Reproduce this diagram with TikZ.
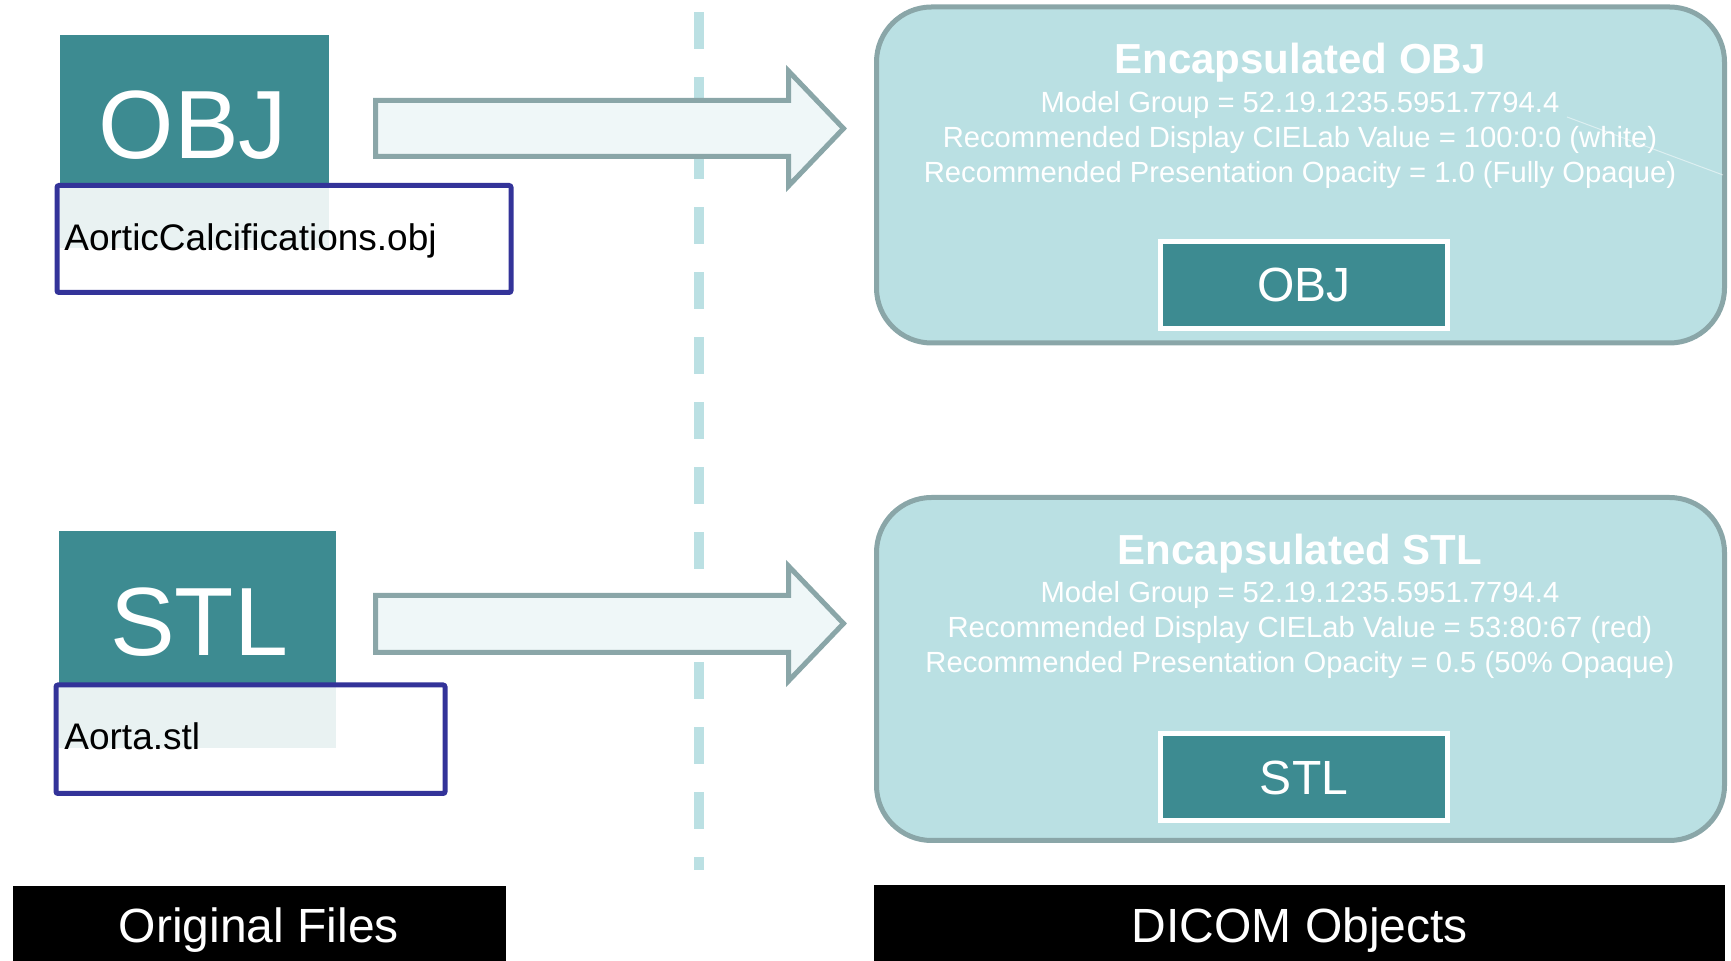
\documentclass[tikz,border=0pt]{standalone}
\usepackage{fontspec}
\setmainfont{Liberation Sans}

\definecolor{tealbox}{RGB}{61,139,145}
\definecolor{paneltint}{RGB}{186,224,227}
\definecolor{panelrim}{RGB}{138,166,168}
\definecolor{arrowfill}{RGB}{239,247,248}
\definecolor{filerim}{RGB}{51,51,153}
\definecolor{dashcol}{RGB}{187,224,227}

\tikzset{
  srcbox/.style={fill=tealbox, inner sep=0pt, outer sep=0pt},
  filebox/.style={draw=filerim, line width=2.5pt, fill=white, fill opacity=0.89, draw opacity=1, rounded corners=1pt, inner sep=0pt},
  bigtag/.style={text=white, font=\fontsize{48.5}{54}\selectfont, inner sep=0pt, anchor=base},
  fname/.style={text=black, font=\fontsize{18.5}{22}\selectfont, inner sep=0pt, anchor=base west},
  blockarrow/.style={draw=panelrim, fill=arrowfill, line width=2.5pt, line join=miter},
  panel/.style={draw=panelrim, fill=paneltint, line width=2.5pt, rounded corners=27.5pt, inner sep=0pt},
  ptitle/.style={text=white, font=\bfseries\fontsize{21}{25}\selectfont, inner sep=0pt, anchor=base},
  pline/.style={text=white, font=\fontsize{14.6}{17}\selectfont, inner sep=0pt, anchor=base},
  innertag/.style={draw=white, fill=tealbox, line width=2.5pt, inner sep=0pt},
  innerlabel/.style={text=white, font=\fontsize{24}{28}\selectfont, inner sep=0pt, anchor=base},
  footbar/.style={fill=black, inner sep=0pt, outer sep=0pt},
  footlabel/.style={text=white, font=\fontsize{24}{28}\selectfont, inner sep=0pt, anchor=base},
}

\begin{document}
\begin{tikzpicture}[x=0.5pt, y=-0.5pt]
\useasboundingbox (0,0) rectangle (1731,961);

% divider between the two columns
\draw[dashcol, line width=4.85pt, dash pattern=on 18.5pt off 14pt] (699,12) -- (699,870);

% ---------- original files ----------
\node[srcbox, minimum width=134.7pt, minimum height=106.5pt] (objsrc) at (194.3,141.5) {};
\node[bigtag] (objtag) at (193,159) {OBJ};
\node[filebox, minimum width=227pt, minimum height=53.5pt] (objfile) at (284,239) {};
\node[fname] (objname) at (64,250.7) {AorticCalcifications.obj};

\node[srcbox, minimum width=138.5pt, minimum height=108.5pt] (stlsrc) at (197.5,639.5) {};
\node[bigtag] (stltag) at (199,656) {STL};
\node[filebox, minimum width=194.5pt, minimum height=54.25pt] (stlfile) at (250.5,739.25) {};
\node[fname] (stlname) at (64,750) {Aorta.stl};

% ---------- conversion arrows ----------
\draw[blockarrow] (375.5,100.5) -- (788.5,100.5) -- (788.5,71) -- (843.5,128.5)
  -- (788.5,186) -- (788.5,156.5) -- (375.5,156.5) -- cycle;
\draw[blockarrow] (375.5,595.5) -- (788.5,595.5) -- (788.5,566) -- (843.5,623.5)
  -- (788.5,681) -- (788.5,652.5) -- (375.5,652.5) -- cycle;

% ---------- DICOM objects ----------
\node[panel, minimum width=424pt, minimum height=168pt] (objpanel) at (1300.5,175) {};
\node[ptitle] (objtitle) at (1300,74) {Encapsulated OBJ};
\node[pline] (objl1) at (1300,113) {Model Group = 52.19.1235.5951.7794.4};
\node[pline] (objl2) at (1300,148) {Recommended Display CIELab Value = 100:0:0 (white)};
\node[pline] (objl3) at (1300,183) {Recommended Presentation Opacity = 1.0 (Fully Opaque)};
\node[innertag, minimum width=143.75pt, minimum height=43.5pt] (objenc) at (1304,285) {};
\node[innerlabel] (objenclabel) at (1304,302) {OBJ};
\draw[white, opacity=0.5, line width=0.5pt] (1567,117) -- (1723,175);

\node[panel, minimum width=424pt, minimum height=171.5pt] (stlpanel) at (1300.5,669) {};
\node[ptitle] (stltitle) at (1300,565) {Encapsulated STL};
\node[pline] (stll1) at (1300,603) {Model Group = 52.19.1235.5951.7794.4};
\node[pline] (stll2) at (1300,638) {Recommended Display CIELab Value = 53:80:67 (red)};
\node[pline] (stll3) at (1300,673) {Recommended Presentation Opacity = 0.5 (50\% Opaque)};
\node[innertag, minimum width=143.75pt, minimum height=43.5pt] (stlenc) at (1304,777) {};
\node[innerlabel] (stlenclabel) at (1304,795) {STL};

% ---------- column captions ----------
\node[footbar, minimum width=246.75pt, minimum height=37.5pt] (origbar) at (259.25,923.5) {};
\node[footlabel] (origlabel) at (259,943) {Original Files};
\node[footbar, minimum width=425.5pt, minimum height=38pt] (dicombar) at (1299.5,923) {};
\node[footlabel] (dicomlabel) at (1300,943) {DICOM Objects};
\end{tikzpicture}
\end{document}
